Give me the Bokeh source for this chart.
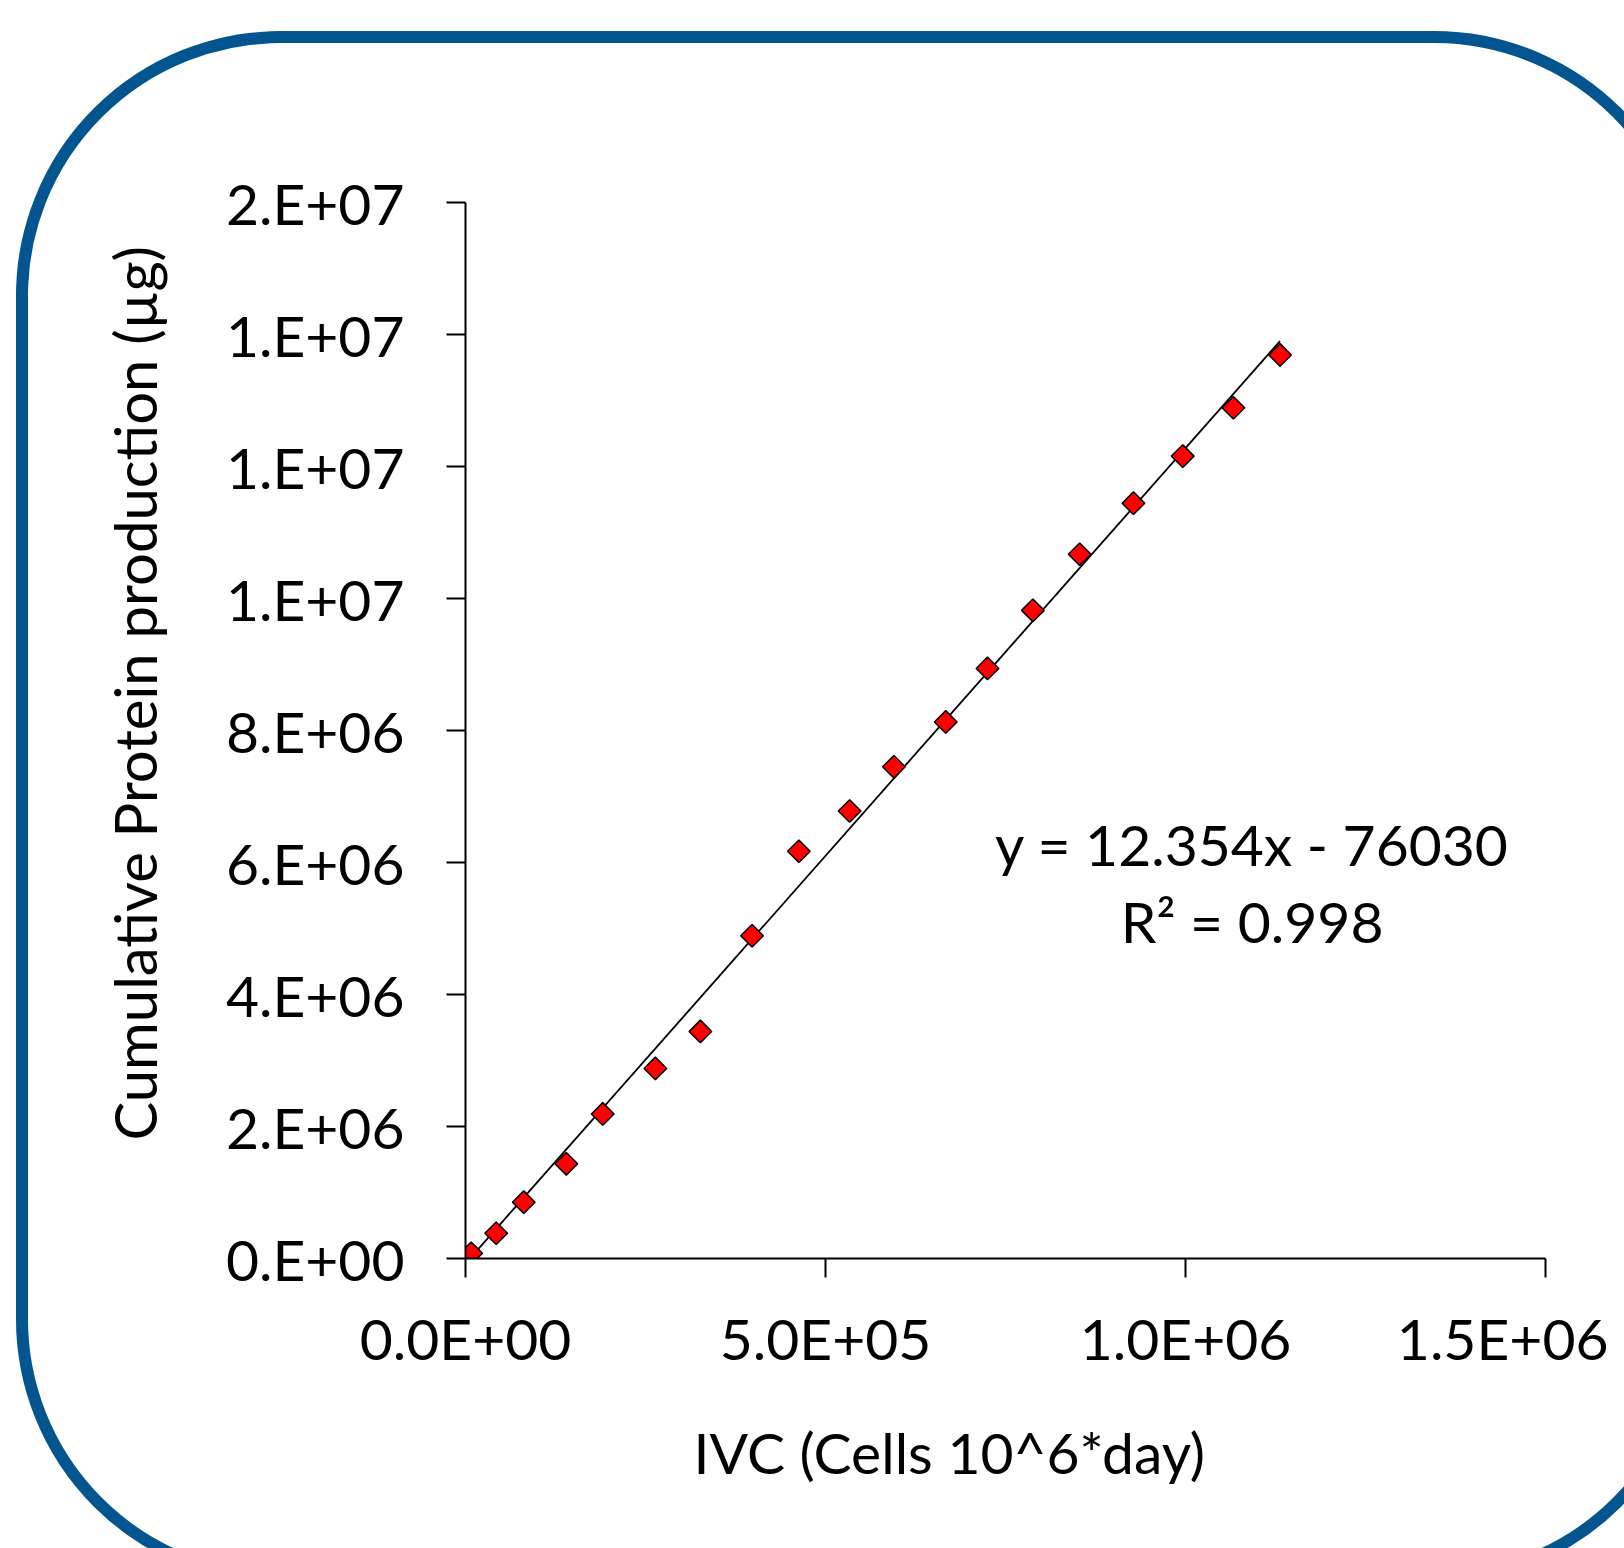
import numpy as np
from bokeh.plotting import figure
from bokeh.models import Range1d, FixedTicker, Label, Title, ColumnDataSource, GlobalInlineStyleSheet
from bokeh.embed import file_html
from bokeh.resources import INLINE

# ---- data ----
ivc = [0, 7.9e3, 4.26e4, 8.09e4, 1.40e5, 1.906e5, 2.637e5, 3.262e5, 3.98e5, 4.63e5,
       5.335e5, 5.95e5, 6.67e5, 7.25e5, 7.88e5, 8.53e5, 9.277e5, 9.962e5, 1.0665e6, 1.1313e6]
protein = [0, 8.0e4, 3.83e5, 8.53e5, 1.435e6, 2.19e6, 2.88e6, 3.44e6, 4.89e6, 6.17e6,
           6.78e6, 7.45e6, 8.13e6, 8.94e6, 9.82e6, 1.067e7, 1.1444e7, 1.2157e7, 1.289e7, 1.369e7]
slope = 12.354
intercept = -76030
r_squared = 0.998

x_ticks = [0, 5e5, 1e6, 1.5e6]
x_tick_labels = ["0.0E+00", "5.0E+05", "1.0E+06", "1.5E+06"]
y_ticks = [0, 2e6, 4e6, 6e6, 8e6, 1e7, 1.2e7, 1.4e7, 1.6e7]
y_tick_labels = ["0.E+00", "2.E+06", "4.E+06", "6.E+06", "8.E+06", "1.E+07", "1.E+07", "1.E+07", "2.E+07"]

x_title = "IVC (Cells 10^6*day)"
y_title = "Cumulative Protein production (µg)"
eq_text = "y = 12.354x - 76030"
r2_text = "R² = 0.998"

FONT = "Lato"
FS = "57px"

p = figure(width=1608, height=1532,
           x_range=Range1d(x_ticks[0], x_ticks[-1]), y_range=Range1d(y_ticks[0], y_ticks[-1]),
           output_backend="svg", toolbar_location=None,
           min_border_left=465, min_border_right=63, min_border_top=202, min_border_bottom=274)
p.frame_width = 1080
p.frame_height = 1056
p.outline_line_color = None
p.grid.visible = False
p.background_fill_color = "white"
p.border_fill_color = "white"

for ax in (p.xaxis[0], p.yaxis[0]):
    ax.axis_line_color = "black"
    ax.axis_line_width = 2
    ax.major_tick_line_color = "black"
    ax.major_tick_line_width = 2
    ax.major_tick_in = 0
    ax.major_tick_out = 19
    ax.minor_tick_line_color = None
    ax.major_label_text_font = FONT
    ax.major_label_text_font_size = FS
    ax.major_label_text_color = "black"

p.xaxis.ticker = FixedTicker(ticks=x_ticks)
p.xaxis.major_label_overrides = {float(t): l for t, l in zip(x_ticks, x_tick_labels)}
p.xaxis.major_label_standoff = 26

p.yaxis.ticker = FixedTicker(ticks=y_ticks)
p.yaxis.major_label_overrides = {float(t): l for t, l in zip(y_ticks, y_tick_labels)}
p.yaxis.major_label_standoff = 42

# axis titles (placed like the original, slightly off the frame centre)
xt = Title(text=x_title, align="left", offset=228, vertical_align="top", standoff=86,
           text_font=FONT, text_font_size=FS, text_font_style="normal", text_color="black")
p.add_layout(xt, "below")
yt = Title(text=y_title, align="left", offset=118, vertical_align="bottom", standoff=108,
           text_font=FONT, text_font_size="58px", text_font_style="normal", text_color="black")
p.add_layout(yt, "left")

# trendline (from the fitted equation over the data range)
x_fit = np.array([min(ivc), max(ivc)])
y_fit = slope * x_fit + intercept
p.line(x_fit, y_fit, line_color="black", line_width=1.8)

src = ColumnDataSource(dict(x=ivc, y=protein))
p.scatter("x", "y", source=src, marker="square", angle=np.pi / 4, size=16,
          fill_color="#FF0000", line_color="black", line_width=1.5)

p.add_layout(Label(x=1.0925e6, y=6.28e6, text=eq_text, text_align="center",
                   text_baseline="alphabetic", text_font=FONT, text_font_size=FS,
                   text_color="black"))
p.add_layout(Label(x=1.0925e6, y=5.11e6, text=r2_text, text_align="center",
                   text_baseline="alphabetic", text_font=FONT, text_font_size=FS,
                   text_color="black"))

# decorative rounded frame around the chart (page-level CSS)
ring_css = """
html, body { overflow: hidden; background: white; }
body::after {
  content: ""; position: fixed; left: 15.7px; top: 30.7px;
  width: 1683px; height: 1553px; box-sizing: border-box;
  border: 12px solid #03558F; border-radius: 265px;
  pointer-events: none; z-index: 10;
}
"""
p.stylesheets = [GlobalInlineStyleSheet(css=ring_css)]

open("out.html", "w").write(file_html(p, INLINE))
